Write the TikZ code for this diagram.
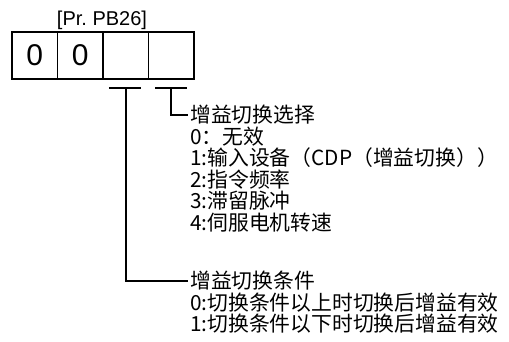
\documentclass[tikz,border=0pt]{standalone}
\usepackage{fontspec}
\setmainfont{Liberation Sans}
\newfontfamily\cjk{Noto Sans CJK SC}
\usetikzlibrary{positioning}
\tikzset{
  cell/.style={draw, line width=1.5pt, minimum width=45.5pt, minimum height=47pt, inner sep=0pt, font=\fontsize{30}{30}\selectfont},
  item/.style={anchor=west, inner sep=0pt, font=\cjk\fontsize{20.8}{21.5}\selectfont},
  bracket/.style={line width=1.6pt},
}
\begin{document}
\begin{tikzpicture}[x=1pt, y=-1pt]
\useasboundingbox (0,0) rectangle (509,342);
\node[font=\fontsize{20}{20}\selectfont] (title) at (102,20) {[Pr.\ PB26]};
\foreach \d [count=\n] in {0,0,{},{}}
  \node[cell] (c\n) at ({34.75+45.5*(\n-1)},55.5) {\d};
% gain switching selection
\node[item] (sel) at (190,115) {增益切换选择};
\foreach \t [count=\i] in {0：无效, 1:输入设备（CDP（增益切换））, 2:指令频率, 3:滞留脉冲, 4:伺服电机转速}
  \node[item] (sel\i) at (190,{115+21.5*\i}) {\t};
% gain switching condition
\node[item] (cond) at (190,281) {增益切换条件};
\foreach \t [count=\i] in {0:切换条件以上时切换后增益有效, 1:切换条件以下时切换后增益有效}
  \node[item] (cond\i) at (190,{281+21.5*\i}) {\t};
% brackets
\coordinate (k3) at ([yshift=-8pt]c3.south);
\coordinate (k4) at ([yshift=-8pt]c4.south);
\draw[bracket] ([xshift=-17pt]k3) -- ([xshift=15pt]k3);
\draw[bracket] ([xshift=-16pt]k4) -- ([xshift=16pt]k4);
\draw[bracket] (k3) |- ([xshift=-2pt]cond.west);
\draw[bracket] (k4) |- ([xshift=-2pt]sel.west);
\end{tikzpicture}
\end{document}
